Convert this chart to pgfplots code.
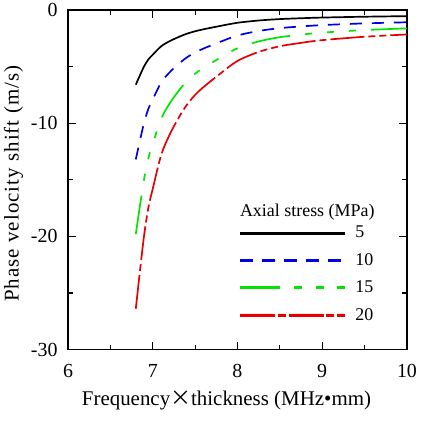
\documentclass[border=0pt]{standalone}
\usepackage{fontspec}
\setmainfont{Liberation Serif}
\newfontfamily\cjk{Noto Sans CJK TC}
\usepackage{pgfplots}
\pgfplotsset{compat=1.18}
\usepackage{pgfplotstable}

% phase velocity shift (m/s) versus frequency x thickness, one column per axial stress
\pgfplotstableread{
fd    s5      s10     s15     s20
6.80  -6.60  -13.20  -19.80  -26.40
6.85  -5.75  -11.50  -17.25  -23.00
6.90  -4.95   -9.90  -14.85  -19.80
6.95  -4.35   -8.70  -13.05  -17.40
7.00  -3.95   -7.90  -11.85  -15.80
7.10  -3.20   -6.40   -9.60  -12.80
7.20  -2.75   -5.50   -8.25  -11.00
7.30  -2.40   -4.80   -7.20   -9.60
7.40  -2.10   -4.20   -6.30   -8.40
7.50  -1.875  -3.75   -5.625  -7.50
7.60  -1.70   -3.40   -5.10   -6.80
7.80  -1.40   -2.80   -4.20   -5.60
8.00  -1.125  -2.25   -3.375  -4.50
8.25  -0.925  -1.85   -2.775  -3.70
8.50  -0.80   -1.60   -2.40   -3.20
8.75  -0.725  -1.45   -2.175  -2.90
9.00  -0.665  -1.33   -1.995  -2.66
9.50  -0.59   -1.18   -1.77   -2.36
10.00 -0.54   -1.08   -1.62   -2.16
}\shiftdata

\definecolor{cblue}{RGB}{0,0,230}
\definecolor{cgreen}{RGB}{0,230,0}
\definecolor{cred}{RGB}{230,0,0}

\tikzset{
  s5/.style={black, line width=1.7pt},
  s10/.style={cblue, line width=1.7pt, dash pattern=on 12bp off 10bp},
  s15/.style={cgreen, line width=1.7pt,
    dash pattern=on 39bp off 15bp on 7bp off 15bp on 7bp off 15bp on 7bp off 15bp},
  s20/.style={cred, line width=1.7pt,
    dash pattern=on 34bp off 4bp on 7bp off 4bp on 34bp off 4bp on 7bp off 4bp on 7bp off 4bp},
}

% legend sample: colour and segment list (segments are 2bp tall bars)
\newcommand\legendsample[2]{%
  \begin{scope}
    \color{#1}
    \fill[#1] #2;
  \end{scope}}

\begin{document}
\begin{tikzpicture}
\begin{axis}[
  scale only axis,
  width=339bp, height=339.5bp,
  xmin=6, xmax=10, ymin=-30, ymax=0,
  xtick={6,7,8,9,10}, ytick={-30,-20,-10,0},
  minor x tick num=1, minor y tick num=1,
  tick align=inside,
  major tick length=8bp, minor tick length=5bp,
  every tick/.style={black, line width=1.2pt},
  axis line style={line width=1.6pt},
  /pgf/number format/assume math mode=true,
  tick label style={font=\fontsize{20}{22}\selectfont},
  xticklabel style={yshift=-11bp},
  yticklabel style={xshift=-7bp},
  xlabel={Frequency{\cjk ×}thickness (MHz•mm)},
  ylabel={\addfontfeatures{LetterSpace=5}Phase velocity shift (m/s)},
  label style={font=\fontsize{21}{23}\selectfont},
  xlabel style={yshift=-7bp, xshift=-11bp},
  ylabel style={yshift=1bp, xshift=-4bp},
  legend cell align=left,
  legend style={at={(rel axis cs:0.507,0.364)}, anchor=north west,
    draw=none, fill=none, inner sep=0pt, nodes={inner sep=0pt},
    font=\fontsize{18}{20}\selectfont, row sep=14bp,
    /tikz/every odd column/.append style={column sep=11bp}},
]
\addplot[s5, smooth, forget plot] table[x=fd, y=s5] {\shiftdata};
\addplot[s10, smooth, forget plot] table[x=fd, y=s10] {\shiftdata};
\addplot[s15, smooth, forget plot] table[x=fd, y=s15] {\shiftdata};
\addplot[s20, smooth, forget plot] table[x=fd, y=s20] {\shiftdata};
% legend samples drawn as filled segments
\addlegendimage{legend image code/.code={\legendsample{black}{
  (0bp,-1bp) rectangle (104bp,1bp)}}}
\addlegendentry{5}
\addlegendimage{legend image code/.code={\legendsample{cblue}{
  (0bp,-1bp) rectangle (12bp,1bp) (22bp,-1bp) rectangle (34bp,1bp)
  (44bp,-1bp) rectangle (56bp,1bp) (66bp,-1bp) rectangle (78bp,1bp)
  (88bp,-1bp) rectangle (100bp,1bp)}}}
\addlegendentry{10}
\addlegendimage{legend image code/.code={\legendsample{cgreen}{
  (0bp,-1bp) rectangle (39bp,1bp) (54bp,-1bp) rectangle (61bp,1bp)
  (76bp,-1bp) rectangle (83bp,1bp) (97bp,-1bp) rectangle (104bp,1bp)}}}
\addlegendentry{15}
\addlegendimage{legend image code/.code={\legendsample{cred}{
  (0bp,-1bp) rectangle (34bp,1bp) (38bp,-1bp) rectangle (45bp,1bp)
  (49bp,-1bp) rectangle (83bp,1bp) (86bp,-1bp) rectangle (93bp,1bp)
  (97bp,-1bp) rectangle (104bp,1bp)}}}
\addlegendentry{20}
\node[anchor=base west, font=\fontsize{18}{20}\selectfont, inner sep=0pt]
  at (rel axis cs:0.507,0.392) {Axial stress (MPa)};
\end{axis}
\path ([shift={(-68bp,-95.5bp)}]current axis.south west)
  rectangle ([shift={(7bp,10bp)}]current axis.north east);
\end{tikzpicture}
\end{document}
